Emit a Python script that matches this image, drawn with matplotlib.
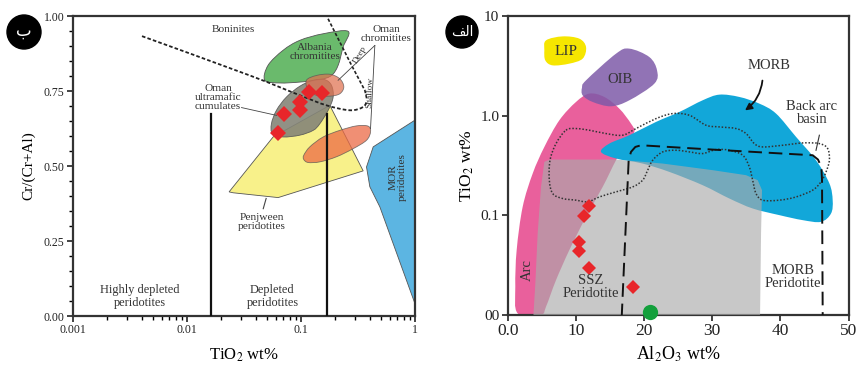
import numpy as np
import matplotlib
matplotlib.use("Agg")
import matplotlib.pyplot as plt
from matplotlib.path import Path
from matplotlib.patches import PathPatch, Polygon, Ellipse
from matplotlib.ticker import MultipleLocator, NullLocator, FixedLocator

plt.rcParams['font.family'] = ['Liberation Serif', 'DejaVu Serif']
plt.rcParams['mathtext.fontset'] = 'stix'

# ---------------- left panel: Cr# vs TiO2 (log x) ----------------
alb_x = [0.0482, 0.0515, 0.0698, 0.0977, 0.1567, 0.2597, 0.2347, 0.2121, 0.1854, 0.1464, 0.0977, 0.0652]
alb_y = [0.786, 0.836, 0.886, 0.919, 0.941, 0.949, 0.897, 0.836, 0.802, 0.788, 0.780, 0.777]
deep_x = [0.1118, 0.1369, 0.1792, 0.2194, 0.2378, 0.2194, 0.1792, 0.1369, 0.1156]
deep_y = [0.786, 0.802, 0.806, 0.791, 0.764, 0.741, 0.733, 0.736, 0.752]
cum_x = [0.0562, 0.0551, 0.0610, 0.0746, 0.0977, 0.128, 0.162, 0.1854, 0.1917, 0.1734, 0.1464, 0.128, 0.0977, 0.0698]
cum_y = [0.608, 0.641, 0.686, 0.730, 0.766, 0.786, 0.788, 0.769, 0.730, 0.686, 0.641, 0.619, 0.603, 0.597]
pen_x = [0.02342, 0.0570, 0.1792, 0.3517, 0.0631, 0.0254]
pen_y = [0.414, 0.597, 0.7025, 0.484, 0.395, 0.411]
shal_x = [0.1059, 0.1196, 0.1567, 0.2194, 0.3074, 0.389, 0.408, 0.3762, 0.2873, 0.2051, 0.1464, 0.1156, 0.1059]
shal_y = [0.536, 0.564, 0.597, 0.619, 0.634, 0.633, 0.614, 0.586, 0.558, 0.531, 0.514, 0.512, 0.522]
mor_x = [1.0, 0.4305, 0.3762, 0.4024, 0.4926, 1.0]
mor_y = [0.653, 0.564, 0.497, 0.431, 0.364, 0.042]
bon_x = [0.00403, 0.0356, 0.0977, 0.1675, 0.2686, 0.3515, 0.381]
bon_y = [0.933, 0.802, 0.736, 0.7025, 0.686, 0.697, 0.719]
dl_x = [0.173, 0.278, 0.364, 0.381]
dl_y = [0.991, 0.836, 0.752, 0.719]
split_x = [0.0161, 0.170]
split_top = 0.675
sample_ti = [0.063, 0.0712, 0.0977, 0.0977, 0.118, 0.1546]
sample_cr = [0.610, 0.675, 0.686, 0.714, 0.747, 0.745]

# ---------------- right panel: TiO2 vs Al2O3 (log y) ----------------
lip_al = [5.62, 8.06, 10.51, 11.49, 11.0, 9.04, 6.60, 5.52, 5.38]
lip_ti = [5.70, 6.25, 5.93, 4.89, 3.74, 3.33, 3.20, 3.59, 4.53]
oib_al = [10.9, 11.49, 15.88, 17.84, 20.77, 21.90, 21.51, 17.84, 15.15, 12.46, 11.0]
oib_ti = [1.913, 2.265, 4.19, 4.71, 3.88, 2.85, 2.10, 1.428, 1.243, 1.374, 1.60]
arc_al = [1.47, 1.12, 1.32, 2.20, 3.67, 5.38, 7.58, 10.02, 11.97, 14.17, 16.37, 18.08, 18.57,
          17.35, 15.88, 13.93, 11.49, 9.04, 7.09, 5.62, 4.89]
arc_ti = [0.01038, 0.0192, 0.0448, 0.1218, 0.263, 0.486, 0.900, 1.374, 1.666, 1.542, 1.178, 0.833, 0.688,
          0.525, 0.357, 0.193, 0.0967, 0.0448, 0.0224, 0.01211, 0.0101]
ssz_al = [3.76, 4.06, 4.40, 4.89, 5.38, 6.11, 15.88, 22.73, 30.06, 34.95, 36.66, 37.29, 37.15, 37.0]
ssz_ti = [0.0095, 0.02075, 0.0658, 0.193, 0.344, 0.363, 0.363, 0.331, 0.284, 0.253, 0.2253, 0.179, 0.0658, 0.0095]
morb_al = [13.69, 14.91, 17.84, 21.75, 25.17, 28.59, 31.04, 33.97, 36.90, 39.35, 42.28, 45.21,
           47.17, 47.65, 47.41, 45.94, 43.26, 39.83, 35.92, 32.50, 28.59, 23.70, 19.79, 15.88]
morb_ti = [0.4334, 0.525, 0.637, 0.866, 1.09, 1.428, 1.627, 1.542, 1.322, 1.05, 0.613, 0.357,
           0.209, 0.142, 0.1044, 0.0861, 0.0895, 0.1005, 0.1172, 0.1476, 0.2008, 0.273, 0.331, 0.372]
bab_al = [8.55, 10.02, 11.97, 14.42, 16.86, 18.82, 21.75, 24.19, 26.64, 29.08, 31.04, 33.48, 34.95,
          36.17, 37.39, 40.32, 43.26, 45.70, 46.92, 47.17, 46.68, 45.94, 44.72, 42.28, 39.83, 37.39,
          36.41, 35.92, 35.43, 34.46, 32.50, 30.55, 28.59, 26.64, 24.68, 22.73, 21.26, 20.53, 19.79,
          18.33, 15.88, 13.44, 11.73, 10.02, 8.06, 6.60, 6.11, 6.21, 7.09]
bab_ti = [0.715, 0.743, 0.715, 0.662, 0.637, 0.743, 0.935, 1.05, 1.01, 0.802, 0.772, 0.743, 0.662,
          0.525, 0.486, 0.505, 0.533, 0.525, 0.468, 0.357, 0.273, 0.217, 0.179, 0.153, 0.142, 0.142,
          0.1656, 0.2253, 0.3065, 0.401, 0.450, 0.457, 0.417, 0.4334, 0.450, 0.4334, 0.357, 0.284,
          0.2253, 0.193, 0.172, 0.153, 0.1367, 0.142, 0.1476, 0.1656, 0.2253, 0.357, 0.525]
mp_al = [16.72, 17.74, 18.08, 18.72, 19.55, 30.06, 44.72, 45.50, 45.99, 46.09, 46.19]
mp_ti = [0.0095, 0.357, 0.4334, 0.486, 0.505, 0.457, 0.401, 0.363, 0.3065, 0.2253, 0.0095]
red_al = [11.88, 11.24, 10.51, 10.41, 11.88, 18.43]
red_ti = [0.1237, 0.098, 0.0543, 0.0441, 0.0298, 0.0192]
green_al = [20.87]
green_ti = [0.0106]


def smooth(xs, ys, logx=False, logy=False, closed=True):
    # catmull-rom -> bezier, computed in the axis' own (log) space
    X = np.log10(xs) if logx else np.asarray(xs, float)
    Y = np.log10(ys) if logy else np.asarray(ys, float)
    P = np.column_stack([X, Y])
    n = len(P)
    if closed:
        idx = lambda i: P[i % n]
        segs = n
    else:
        idx = lambda i: P[min(max(i, 0), n - 1)]
        segs = n - 1
    verts = [P[0]]
    codes = [Path.MOVETO]
    for i in range(segs):
        p0, p1, p2, p3 = idx(i - 1), idx(i), idx(i + 1), idx(i + 2)
        verts += [p1 + (p2 - p0) / 6, p2 - (p3 - p1) / 6, p2]
        codes += [Path.CURVE4] * 3
    if closed:
        verts.append(P[0])
        codes.append(Path.CLOSEPOLY)
    V = np.array(verts)
    if logx:
        V[:, 0] = 10 ** V[:, 0]
    if logy:
        V[:, 1] = 10 ** V[:, 1]
    return Path(V, codes)


fig = plt.figure(figsize=(8.59, 3.65), dpi=100)
ax1 = fig.add_axes([0.085, 0.134, 0.398, 0.822])
ax2 = fig.add_axes([0.591, 0.137, 0.397, 0.819])

# ---- left ----
ax1.set_xscale('log')
ax1.set_xlim(0.001, 1)
ax1.set_ylim(0, 1)
edge = dict(edgecolor='#555555', linewidth=0.6)
ax1.add_patch(Polygon(np.column_stack([pen_x, pen_y]), closed=True, facecolor='#f8f18a', zorder=1, **edge))
ax1.add_patch(PathPatch(smooth(shal_x, shal_y, logx=True), facecolor='#ec6a45', alpha=0.75, zorder=2, **edge))
ax1.add_patch(PathPatch(smooth(alb_x, alb_y, logx=True), facecolor='#6aba6c', zorder=2, **edge))
ax1.add_patch(PathPatch(smooth(cum_x, cum_y, logx=True), facecolor='#858578', alpha=0.9, zorder=3, **edge))
ax1.add_patch(PathPatch(smooth(deep_x, deep_y, logx=True), facecolor='#e0704f', alpha=0.72, zorder=4, **edge))
ax1.add_patch(Polygon(np.column_stack([mor_x, mor_y]), closed=True, facecolor='#5cb5e2', zorder=2, **edge))

ax1.add_patch(PathPatch(smooth(bon_x, bon_y, logx=True, closed=False), fill=False,
                        linestyle=(0, (2, 1.2)), linewidth=1.3, edgecolor='#222222', zorder=5))
ax1.plot(dl_x, dl_y, color='#222222', linestyle=(0, (2, 1.2)), linewidth=1.2, zorder=5)
for x in split_x:
    ax1.plot([x, x], [0, split_top], color='#111111', linewidth=1.6, zorder=5)

# leader lines
ax1.plot([0.0301, 0.0610], [0.695, 0.669], color='#444444', lw=0.6, zorder=6)
ax1.plot([0.445, 0.212], [0.902, 0.786], color='#444444', lw=0.6, zorder=6)
ax1.plot([0.445, 0.408], [0.902, 0.625], color='#444444', lw=0.6, zorder=6)
ax1.plot([0.0495, 0.0467], [0.392, 0.358], color='#444444', lw=0.8, zorder=6)

ax1.plot(sample_ti, sample_cr, linestyle='none', marker='D', markersize=8,
         color='#e8262a', markeredgewidth=0, zorder=7)

fs = 8.2
c = '#333333'
ax1.text(0.0254, 0.954, 'Boninites', fontsize=fs, color=c, ha='center', va='center')
ax1.text(0.1324, 0.88, 'Albania\nchromitites', fontsize=fs, color=c, ha='center', va='center',
         linespacing=1.0, zorder=8)
ax1.text(0.564, 0.94, 'Oman\nchromitites', fontsize=fs, color=c, ha='center', va='center', linespacing=1.0)
ax1.text(0.01875, 0.73, 'Oman\nultramafic\ncumulates', fontsize=fs, color=c, ha='center', va='center',
         linespacing=1.0)
ax1.text(0.045, 0.314, 'Penjween\nperidotites', fontsize=fs, color=c, ha='center', va='center', linespacing=1.1)
ax1.text(0.7136, 0.464, 'MOR\nperidotites', fontsize=fs, color=c, ha='center', va='center',
         rotation=90, linespacing=1.0, zorder=8)
ax1.text(0.00385, 0.0666, 'Highly depleted\nperidotites', fontsize=8.8, color=c, ha='center', va='center',
         linespacing=1.1)
ax1.text(0.0562, 0.0644, 'Depleted\nperidotites', fontsize=8.8, color=c, ha='center', va='center',
         linespacing=1.1)
ax1.text(0.33, 0.87, 'Deep', fontsize=6.5, color=c, ha='center', va='center', rotation=60)
ax1.text(0.405, 0.745, 'Shallow', fontsize=6.8, color=c, ha='center', va='center', rotation=88)

ax1.set_xticks([0.001, 0.01, 0.1, 1])
ax1.set_xticklabels(['0.001', '0.01', '0.1', '1'])
ax1.set_yticks([0, 0.25, 0.5, 0.75, 1.0])
ax1.set_yticklabels(['0.00', '0.25', '0.50', '0.75', '1.00'])
ax1.yaxis.set_minor_locator(MultipleLocator(0.05))
ax1.tick_params(which='major', length=4, width=1.2, labelsize=8.5, colors='#222222', pad=2)
ax1.tick_params(which='minor', length=3, width=1.0)
ax1.set_xlabel('TiO$_2$ wt%', fontsize=12, labelpad=7)
ax1.set_ylabel('Cr/(Cr+Al)', fontsize=11, labelpad=6)

# ---- right ----
ax2.set_yscale('log')
ax2.set_xlim(0, 50)
ax2.set_ylim(0.01, 10)
ax2.add_patch(PathPatch(smooth(arc_al, arc_ti, logy=True), facecolor='#e9609c', edgecolor='none', zorder=1))
ax2.add_patch(PathPatch(smooth(oib_al, oib_ti, logy=True), facecolor='#7e5aa8', alpha=0.85,
                        edgecolor='none', zorder=2))
ax2.add_patch(PathPatch(smooth(lip_al, lip_ti, logy=True), facecolor='#f6e600', edgecolor='none', zorder=2))
ax2.add_patch(PathPatch(smooth(morb_al, morb_ti, logy=True), facecolor='#12a7d9', edgecolor='none', zorder=2))
ax2.add_patch(Polygon(np.column_stack([ssz_al, ssz_ti]), closed=True, facecolor='#ababab', alpha=0.65,
                      edgecolor='none', zorder=3))
ax2.add_patch(PathPatch(smooth(bab_al, bab_ti, logy=True), fill=False, edgecolor='#333333',
                        linestyle=(0, (1, 1.2)), linewidth=1.1, zorder=4))
ax2.plot(mp_al, mp_ti, color='#111111', linestyle=(0, (7, 3.5)), linewidth=1.4, zorder=4)

ax2.plot(red_al, red_ti, linestyle='none', marker='D', markersize=7.5, color='#e8262a',
         markeredgewidth=0, zorder=6)
ax2.plot(green_al, green_ti, linestyle='none', marker='o', markersize=11, color='#13a03c',
         markeredgewidth=0, zorder=6, clip_on=False)

fs2 = 10.5
ax2.text(8.55, 4.4, 'LIP', fontsize=11, color=c, ha='center', va='center', zorder=7)
ax2.text(16.4, 2.3, 'OIB', fontsize=fs2, color=c, ha='center', va='center', zorder=7)
ax2.text(38.4, 3.2, 'MORB', fontsize=fs2, color=c, ha='center', va='center', zorder=7)
ax2.annotate('', xy=(34.46, 1.09), xytext=(37.39, 2.4),
             arrowprops=dict(arrowstyle='-|>', color='#111111', lw=1.3,
                             connectionstyle='arc3,rad=-0.25', mutation_scale=10), zorder=7)
ax2.text(44.6, 1.066, 'Back arc\nbasin', fontsize=fs2, color=c, ha='center', va='center',
         linespacing=1.05, zorder=7)
ax2.plot([45.7, 45.21], [0.637, 0.45], color='#333333', lw=0.8, zorder=7)
ax2.text(2.93, 0.0282, 'Arc', fontsize=fs2, color=c, ha='center', va='center', rotation=90, zorder=7)
ax2.text(12.2, 0.0189, 'SSZ\nPeridotite', fontsize=fs2, color=c, ha='center', va='center',
         linespacing=1.0, zorder=7)
ax2.text(41.8, 0.0242, 'MORB\nPeridotite', fontsize=fs2, color=c, ha='center', va='center',
         linespacing=1.0, zorder=7)

ax2.set_xticks([0, 10, 20, 30, 40, 50])
ax2.set_xticklabels(['0.0', '10', '20', '30', '40', '50'])
ax2.yaxis.set_major_locator(FixedLocator([0.01, 0.1, 1, 10]))
ax2.yaxis.set_minor_locator(NullLocator())
ax2.set_yticklabels(['00', '0.1', '1.0', '10'])
ax2.tick_params(which='major', length=4, width=1.2, colors='#222222', pad=2)
ax2.tick_params(axis='x', labelsize=12.5)
ax2.tick_params(axis='y', labelsize=11)
ax2.set_xlabel('Al$_2$O$_3$ wt%', fontsize=13, labelpad=4)
ax2.set_ylabel('TiO$_2$ wt%', fontsize=12.5, labelpad=3)

for ax in (ax1, ax2):
    for s in ax.spines.values():
        s.set_linewidth(1.6)
        s.set_color('#333333')

# panel badges
fig.add_artist(Ellipse((24 / 859, 1 - 32 / 365), 34 / 859, 34 / 365, transform=fig.transFigure,
                       facecolor='black', edgecolor='black'))
fig.text(24 / 859, 1 - 31 / 365, '\u0628', family='DejaVu Sans', fontsize=12, color='white',
         ha='center', va='center')
fig.add_artist(Ellipse((462 / 859, 1 - 32 / 365), 32 / 859, 32 / 365, transform=fig.transFigure,
                       facecolor='black', edgecolor='black'))
fig.text(462 / 859, 1 - 32 / 365, '\ufed2\ufedf\ufe8d', family='DejaVu Sans', fontsize=10,
         color='white', ha='center', va='center')

fig.savefig('out.png', dpi=100)
